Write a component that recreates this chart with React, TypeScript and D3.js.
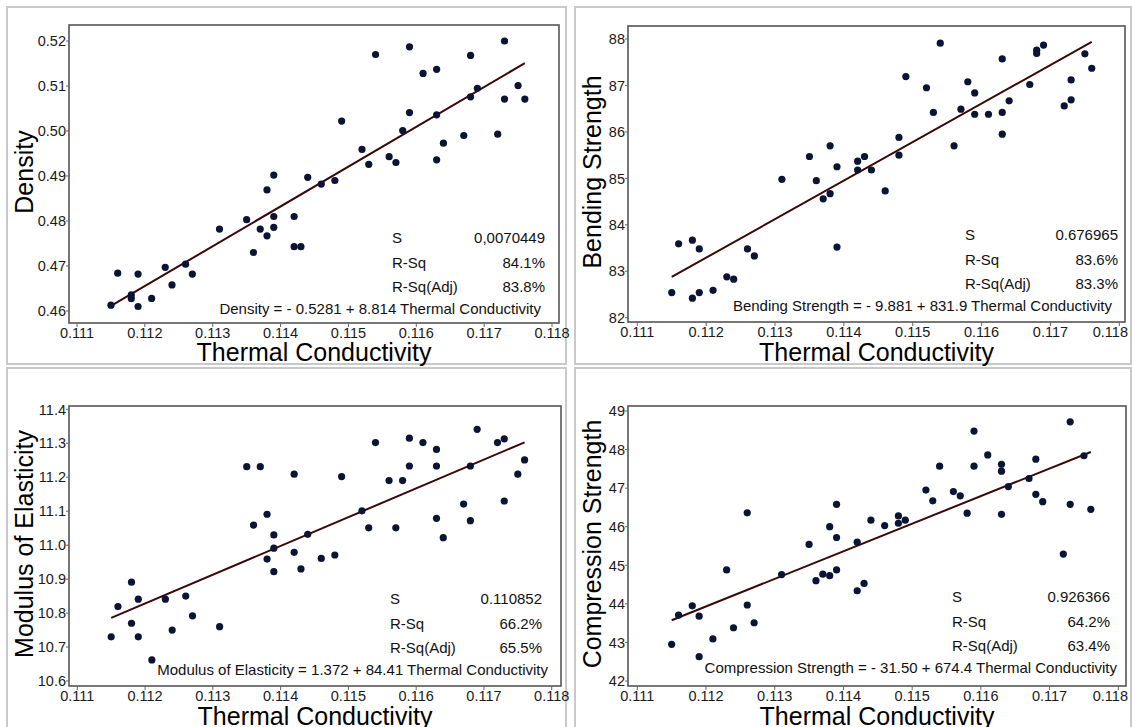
import React from "react";
import * as d3 from "d3";

const W = 1132,
  H = 727;
const FONT = "'Liberation Sans', Arial, sans-serif";

const xTicks = [0.111, 0.112, 0.113, 0.114, 0.115, 0.116, 0.117, 0.118];

const densityTicks = [0.46, 0.47, 0.48, 0.49, 0.5, 0.51, 0.52];
const bendingTicks = [82, 83, 84, 85, 86, 87, 88];
const modulusTicks = [10.6, 10.7, 10.8, 10.9, 11.0, 11.1, 11.2, 11.3, 11.4];
const compressionTicks = [42, 43, 44, 45, 46, 47, 48, 49];

// [thermal conductivity, property]
const densityData: [number, number][] = [
  [0.1115, 0.4613], [0.1116, 0.4684], [0.1118, 0.4636], [0.1118, 0.4628],
  [0.1119, 0.461], [0.1119, 0.4682], [0.1121, 0.4628], [0.1123, 0.4697],
  [0.1124, 0.4658], [0.1126, 0.4704], [0.1127, 0.4682], [0.1131, 0.4782],
  [0.1135, 0.4803], [0.1136, 0.473], [0.1137, 0.4782], [0.1138, 0.4767],
  [0.1138, 0.4869], [0.1139, 0.4902], [0.1139, 0.481], [0.1139, 0.4786],
  [0.1142, 0.481], [0.1142, 0.4743], [0.1143, 0.4743], [0.1144, 0.4897],
  [0.1146, 0.4882], [0.1148, 0.489], [0.1149, 0.5022], [0.1152, 0.4959],
  [0.1153, 0.4926], [0.1154, 0.517], [0.1156, 0.4943], [0.1157, 0.493],
  [0.1158, 0.5001], [0.1159, 0.5187], [0.1159, 0.5041], [0.1161, 0.5128],
  [0.1163, 0.5137], [0.1163, 0.5036], [0.1163, 0.4936], [0.1164, 0.4973],
  [0.1167, 0.499], [0.1168, 0.5168], [0.1168, 0.5076], [0.1169, 0.5095],
  [0.1172, 0.4993], [0.1173, 0.52], [0.1173, 0.5071], [0.1175, 0.5101],
  [0.1176, 0.5071],
];

const bendingData: [number, number][] = [
  [0.1115, 82.54], [0.1116, 83.59], [0.1118, 83.67], [0.1118, 82.42],
  [0.1119, 83.48], [0.1119, 82.54], [0.1121, 82.59], [0.1123, 82.88],
  [0.1124, 82.83], [0.1126, 83.48], [0.1127, 83.33], [0.1131, 84.98],
  [0.1135, 85.47], [0.1136, 84.95], [0.1137, 84.56], [0.1138, 84.67],
  [0.1138, 85.7], [0.1139, 85.25], [0.1139, 83.52], [0.1142, 85.37],
  [0.1142, 85.18], [0.1143, 85.47], [0.1144, 85.18], [0.1146, 84.73],
  [0.1148, 85.88], [0.1148, 85.5], [0.1149, 87.19], [0.1152, 86.95],
  [0.1153, 86.42], [0.1154, 87.91], [0.1156, 85.7], [0.1157, 86.49],
  [0.1158, 87.08], [0.1159, 86.84], [0.1159, 86.38], [0.1161, 86.38],
  [0.1163, 86.42], [0.1163, 87.57], [0.1163, 85.95], [0.1164, 86.67],
  [0.1167, 87.02], [0.1168, 87.76], [0.1168, 87.69], [0.1169, 87.87],
  [0.1172, 86.56], [0.1173, 86.69], [0.1173, 87.12], [0.1175, 87.68],
  [0.1176, 87.37],
];

const modulusData: [number, number][] = [
  [0.1115, 10.73], [0.1116, 10.819], [0.1118, 10.891], [0.1118, 10.77],
  [0.1119, 10.841], [0.1119, 10.73], [0.1121, 10.662], [0.1123, 10.841],
  [0.1124, 10.75], [0.1126, 10.85], [0.1127, 10.792], [0.1131, 10.76],
  [0.1135, 11.231], [0.1136, 11.059], [0.1137, 11.231], [0.1138, 11.091],
  [0.1138, 10.959], [0.1139, 11.03], [0.1139, 10.991], [0.1139, 10.922],
  [0.1142, 11.209], [0.1142, 10.979], [0.1143, 10.93], [0.1144, 11.032],
  [0.1146, 10.961], [0.1148, 10.971], [0.1149, 11.202], [0.1152, 11.101],
  [0.1153, 11.051], [0.1154, 11.302], [0.1156, 11.19], [0.1157, 11.051],
  [0.1158, 11.19], [0.1159, 11.315], [0.1159, 11.233], [0.1161, 11.302],
  [0.1163, 11.282], [0.1163, 11.233], [0.1163, 11.079], [0.1164, 11.022],
  [0.1167, 11.121], [0.1168, 11.233], [0.1168, 11.072], [0.1169, 11.341],
  [0.1172, 11.302], [0.1173, 11.313], [0.1173, 11.13], [0.1175, 11.209],
  [0.1176, 11.251],
];

const compressionData: [number, number][] = [
  [0.1115, 42.95], [0.1116, 43.71], [0.1118, 43.95], [0.1119, 43.68],
  [0.1119, 42.63], [0.1121, 43.09], [0.1123, 44.88], [0.1124, 43.38],
  [0.1126, 46.36], [0.1126, 43.97], [0.1127, 43.51], [0.1131, 44.76],
  [0.1135, 45.54], [0.1136, 44.6], [0.1137, 44.77], [0.1138, 46.0],
  [0.1138, 44.73], [0.1139, 46.58], [0.1139, 45.72], [0.1139, 44.88],
  [0.1142, 44.34], [0.1142, 45.6], [0.1143, 44.53], [0.1144, 46.17],
  [0.1146, 46.03], [0.1148, 46.28], [0.1148, 46.09], [0.1149, 46.17],
  [0.1152, 46.95], [0.1153, 46.67], [0.1154, 47.57], [0.1156, 46.91],
  [0.1157, 46.8], [0.1158, 46.35], [0.1159, 47.57], [0.1159, 48.48],
  [0.1161, 47.86], [0.1163, 47.62], [0.1163, 47.44], [0.1163, 46.32],
  [0.1164, 47.04], [0.1167, 47.25], [0.1168, 47.75], [0.1168, 46.84],
  [0.1169, 46.65], [0.1172, 45.29], [0.1173, 48.72], [0.1173, 46.58],
  [0.1175, 47.84], [0.1176, 46.45],
];

const statLabels = ["S", "R-Sq", "R-Sq(Adj)"];
const densityStats = ["0,0070449", "84.1%", "83.8%"];
const bendingStats = ["0.676965", "83.6%", "83.3%"];
const modulusStats = ["0.110852", "66.2%", "65.5%"];
const compressionStats = ["0.926366", "64.2%", "63.4%"];

const panels = [
  {
    title: "Density",
    data: densityData,
    yTicks: densityTicks,
    fmt: d3.format(".2f"),
    stats: densityStats,
    equation: "Density = - 0.5281 + 8.814 Thermal Conductivity",
    frame: { x0: 69, x1: 559, y0: 25, y1: 323 },
    xr: [77, 552],
    yr: [311, 41],
    yTitleX: 33,
    statX: [392, 545],
    statY: 243,
    eqX: 541,
    xTitleY: 361,
  },
  {
    title: "Bending Strength",
    data: bendingData,
    yTicks: bendingTicks,
    fmt: d3.format("d"),
    stats: bendingStats,
    equation: "Bending Strength = - 9.881 + 831.9 Thermal Conductivity",
    frame: { x0: 628, x1: 1125, y0: 26, y1: 322 },
    xr: [637.3, 1119.3],
    yr: [317.7, 39],
    yTitleX: 601,
    statX: [965, 1118],
    statY: 240,
    eqX: 1112,
    xTitleY: 361,
  },
  {
    title: "Modulus of Elasticity",
    data: modulusData,
    yTicks: modulusTicks,
    fmt: d3.format(".1f"),
    stats: modulusStats,
    equation: "Modulus of Elasticity = 1.372 + 84.41 Thermal Conductivity",
    frame: { x0: 69, x1: 561, y0: 406, y1: 686 },
    xr: [77.3, 551.7],
    yr: [681, 409.3],
    yTitleX: 33,
    statX: [390, 542],
    statY: 604,
    eqX: 548,
    xTitleY: 725,
  },
  {
    title: "Compression Strength",
    data: compressionData,
    yTicks: compressionTicks,
    fmt: d3.format("d"),
    stats: compressionStats,
    equation: "Compression Strength = - 31.50 + 674.4 Thermal Conductivity",
    frame: { x0: 628, x1: 1126, y0: 406, y1: 686 },
    xr: [637.3, 1118.3],
    yr: [681, 411],
    yTitleX: 601,
    statX: [952, 1110],
    statY: 602,
    eqX: 1117,
    xTitleY: 725,
  },
];

// least squares fit, drawn over the range of the data
function fitLine(pts: [number, number][]) {
  const mx = d3.mean(pts, (d) => d[0])!;
  const my = d3.mean(pts, (d) => d[1])!;
  const b =
    d3.sum(pts, (d) => (d[0] - mx) * (d[1] - my)) /
    d3.sum(pts, (d) => (d[0] - mx) ** 2);
  const a = my - b * mx;
  const [lo, hi] = d3.extent(pts, (d) => d[0]) as [number, number];
  return [
    [lo, a + b * lo],
    [hi, a + b * hi],
  ] as [number, number][];
}

function Panel({ p }: { p: (typeof panels)[number] }) {
  const { frame } = p;
  const x = d3.scaleLinear().domain([0.111, 0.118]).range(p.xr);
  const yDom = d3.extent(p.yTicks) as [number, number];
  const y = d3.scaleLinear().domain(yDom).range(p.yr);
  const line = d3
    .line<[number, number]>()
    .x((d) => x(d[0]))
    .y((d) => y(d[1]));
  const fit = fitLine(p.data);
  const midY = (frame.y0 + frame.y1) / 2 - 2;
  const midX = (frame.x0 + frame.x1) / 2;

  return (
    <g fontFamily={FONT}>
      <rect
        x={frame.x0}
        y={frame.y0}
        width={frame.x1 - frame.x0}
        height={frame.y1 - frame.y0}
        fill="#fff"
        stroke="#555"
        strokeWidth={1.6}
      />
      {xTicks.map((t) => {
        // keep the last label inside the page
        const tooFar = x(t) + 17 > W - 3;
        return (
          <g key={t}>
            <line
              x1={x(t)}
              x2={x(t)}
              y1={frame.y1}
              y2={frame.y1 + 4}
              stroke="#666"
            />
            <text
              x={tooFar ? W - 4 : x(t)}
              y={frame.y1 + 15}
              textAnchor={tooFar ? "end" : "middle"}
              fontSize={14.5}
              fill="#1a1a1a"
            >
              {d3.format(".3f")(t)}
            </text>
          </g>
        );
      })}
      {p.yTicks.map((t) => (
        <g key={t}>
          <line
            x1={frame.x0 - 3}
            x2={frame.x0}
            y1={y(t)}
            y2={y(t)}
            stroke="#666"
          />
          <text
            x={frame.x0 - 3}
            y={y(t)}
            dy="0.36em"
            textAnchor="end"
            fontSize={14.5}
            fill="#1a1a1a"
          >
            {p.fmt(t)}
          </text>
        </g>
      ))}
      <path d={line(fit)!} stroke="#3a0808" strokeWidth={2} fill="none" />
      {p.data.map((d, i) => (
        <circle key={i} cx={x(d[0])} cy={y(d[1])} r={3.6} fill="#0b1433" />
      ))}
      {statLabels.map((s, i) => (
        <g key={s}>
          <text
            x={p.statX[0]}
            y={p.statY + i * 24.5}
            fontSize={15}
            fill="#111"
          >
            {s}
          </text>
          <text
            x={p.statX[1]}
            y={p.statY + i * 24.5}
            fontSize={15}
            fill="#111"
            textAnchor="end"
          >
            {p.stats[i]}
          </text>
        </g>
      ))}
      <text
        x={p.eqX}
        y={p.statY + 3 * 23.5}
        fontSize={15}
        fill="#111"
        textAnchor="end"
      >
        {p.equation}
      </text>
      <text
        transform={`translate(${p.yTitleX},${midY}) rotate(-90)`}
        textAnchor="middle"
        fontSize={25}
        fill="#000"
      >
        {p.title}
      </text>
      <text
        x={midX}
        y={p.xTitleY}
        textAnchor="middle"
        fontSize={25}
        fill="#000"
      >
        Thermal Conductivity
      </text>
    </g>
  );
}

export default function App() {
  return (
    <svg
      width={W}
      height={H}
      style={{ position: "absolute", left: 0, top: 0, background: "#fff" }}
    >
      <rect x={0} y={0} width={W} height={H} fill="#fff" />
      <g fill="none" stroke="#c9c9c9" strokeWidth={2}>
        <rect x={7} y={7} width={559} height={357} />
        <rect x={575} y={7} width={556} height={357} />
        <rect x={7} y={368} width={559} height={370} />
        <rect x={575} y={368} width={556} height={370} />
      </g>
      {panels.map((p) => (
        <Panel key={p.title} p={p} />
      ))}
    </svg>
  );
}
